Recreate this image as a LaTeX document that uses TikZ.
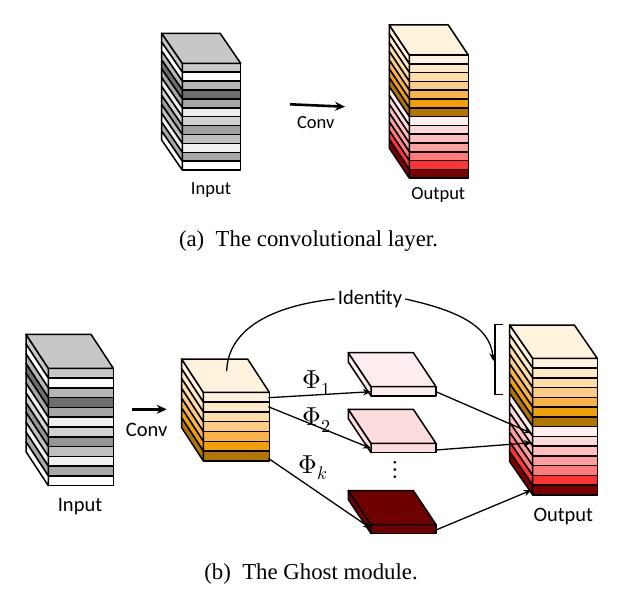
\documentclass[tikz,border=0pt]{standalone}
\usepackage{fontspec}
\usepackage{unicode-math}
\setmainfont{Liberation Serif}
\setmathfont{Latin Modern Math}
\newfontfamily\labelfont{Carlito}
\usetikzlibrary{arrows.meta}
\definecolor{or1}{RGB}{255, 243, 222}
\definecolor{or2}{RGB}{255, 233, 196}
\definecolor{or3}{RGB}{255, 222, 166}
\definecolor{or4}{RGB}{252, 203, 133}
\definecolor{or5}{RGB}{249, 180, 69}
\definecolor{or6}{RGB}{240, 160, 0}
\definecolor{or7}{RGB}{176, 118, 0}
\definecolor{rd1}{RGB}{255, 239, 239}
\definecolor{rd2}{RGB}{253, 218, 218}
\definecolor{rd3}{RGB}{255, 189, 189}
\definecolor{rd4}{RGB}{255, 158, 158}
\definecolor{rd5}{RGB}{255, 122, 122}
\definecolor{rd6}{RGB}{255, 51, 51}
\definecolor{rd7}{RGB}{122, 0, 0}
\definecolor{ghostone}{RGB}{253, 237, 237}
\definecolor{ghosttwo}{RGB}{252, 220, 220}
\definecolor{ghostk}{RGB}{110, 0, 0}

% block of feature maps: x, y of front top-left, width, stripe height, depth x, depth y, colours
\newcommand{\featstack}[7]{%
  \foreach \c [count=\i] in {#7} {
    \pgfmathsetmacro{\ya}{#2+(\i-1)*#4}
    \pgfmathsetmacro{\yb}{#2+\i*#4}
    \filldraw[fill=\c, line width=1.5pt, line join=round] (#1,\ya) rectangle (#1+#3,\yb);
    \filldraw[fill=\c, line width=1.5pt, line join=round] (#1,\ya) -- (#1,\yb) -- (#1-#5,\yb-#6) -- (#1-#5,\ya-#6) -- cycle;
    \ifnum\i=1
      \filldraw[fill=\c, line width=1.5pt, line join=round] (#1,#2) -- (#1+#3,#2) -- (#1+#3-#5,#2-#6) -- (#1-#5,#2-#6) -- cycle;
    \fi
  }%
}

\begin{document}
\begin{tikzpicture}[x=1pt, y=-1pt,
    lbl/.style={font=\labelfont\fontsize{18.5}{20}\selectfont, inner sep=0pt},
    lblb/.style={font=\labelfont\fontsize{20.5}{22}\selectfont, inner sep=0pt},
    phi/.style={font=\fontsize{26}{28}\selectfont, inner sep=0pt},
    caption/.style={font=\fontsize{22.8}{24}\selectfont, inner sep=0pt},
    flow/.style={-{Stealth[length=8pt, width=6.5pt]}, line width=1.3pt},
    convarrow/.style={-{Stealth[length=10pt, width=9pt]}, line width=2.6pt}]
    \useasboundingbox (0,0) rectangle (623,604);
    \fill[white] (0,0) rectangle (623,604);

    % (a) convolutional layer
    \featstack{182.3}{63.3}{58.4}{8.9}{20.6}{30}{black!22, white, black!29, black!57, black!35, black!7, black!18, black!37, black!25, black!6, black!34, white}
    \featstack{409.3}{55}{59}{8.8}{20}{30}{or1, or2, or3, or4, or5, or6, or7, rd1, rd2, rd3, rd4, rd5, rd6, rd7}
    \coordinate (convA-s) at (290,104.3);
    \coordinate (convA-e) at (345,106.7);
    \draw[convarrow] (convA-s) -- (convA-e);
    \node[lbl] (convA) at (315.7,123) {Conv};
    \node[lbl] (inputA) at (211,190) {Input};
    \node[lbl] (outputA) at (438.3,195) {Output};
    \node[caption] (capA) at (308.5,241) {(a)\enspace The convolutional layer.};

    % (b) Ghost module
    \featstack{48.3}{368.3}{65}{9.78}{22.3}{34}{black!22, white, black!29, black!57, black!35, black!6, black!18, black!42, black!25, black!6, black!34, white}
    \featstack{203.3}{392.3}{66}{9.8}{21.7}{33.3}{or1, or2, or3, or4, or5, or6, or7}
    \featstack{371}{386.7}{65}{9.3}{22.7}{34}{ghostone}
    \featstack{371}{443.3}{65}{9.3}{22.7}{34}{ghosttwo}
    \featstack{371}{524.5}{65}{9}{22.7}{34}{ghostk}
    \featstack{532.7}{358.3}{64.6}{9.76}{23}{33.3}{or1, or2, or3, or4, or5, or6, or7, rd1, rd2, rd3, rd4, rd5, rd6, rd7}

    \coordinate (convB-s) at (131.7,409.3);
    \coordinate (convB-e) at (166.7,409.3);
    \draw[convarrow] (convB-s) -- (convB-e);
    \node[lblb] (convB) at (146.7,430) {Conv};
    \node[lblb] (inputB) at (80,506.7) {Input};
    \node[lblb] (outputB) at (563.3,516.7) {Output};
    \node[lblb, inner sep=3pt] (identity) at (370,299) {Identity};

    % ports
    \coordinate (primary) at (226.7,371);
    \coordinate (mid-1) at (268.3,397.7);
    \coordinate (mid-2) at (268.3,406.7);
    \coordinate (mid-k) at (268.3,458.3);
    \coordinate (ghost1-in) at (371,391.7);
    \coordinate (ghost2-in) at (371,448.3);
    \coordinate (ghostk-in) at (371,528.5);
    \coordinate (ghost1-out) at (436,391.7);
    \coordinate (ghost2-out) at (436,450);
    \coordinate (ghostk-out) at (436,530);
    \coordinate (out-1) at (531.7,433.3);
    \coordinate (out-2) at (531.7,442.7);
    \coordinate (out-k) at (531.7,490);
    \coordinate (brace-top) at (503.3,324.5);
    \coordinate (brace-bot) at (503.3,394.5);
    \coordinate (brace-mid) at (493.3,361);

    \draw[line width=1.3pt] (brace-top) -- ++(-8.3,0) -- (495,394.5) -- (brace-bot);
    \draw[line width=1.3pt] (primary) .. controls (228,330) and (270,306) .. (identity.west);
    \draw[flow] (identity.east) .. controls (455,310) and (490,325) .. (brace-mid);

    \draw[flow] (mid-1) -- (ghost1-in);
    \draw[flow] (mid-2) -- (ghost2-in);
    \draw[flow] (mid-k) -- (ghostk-in);
    \draw[flow] (ghost1-out) -- (out-1);
    \draw[flow] (ghost2-out) -- (out-2);
    \draw[flow] (ghostk-out) -- (out-k);

    \node[phi] (phi1) at (316.7,383) {$\Phi_1$};
    \node[phi] (phi2) at (316.7,420) {$\Phi_2$};
    \node[phi] (phik) at (313.3,468) {$\Phi_k$};
    \node[phi] (dots) at (395,470) {$\vdots$};
    \node[caption] (capB) at (311,574) {(b)\enspace The Ghost module.};
\end{tikzpicture}
\end{document}
